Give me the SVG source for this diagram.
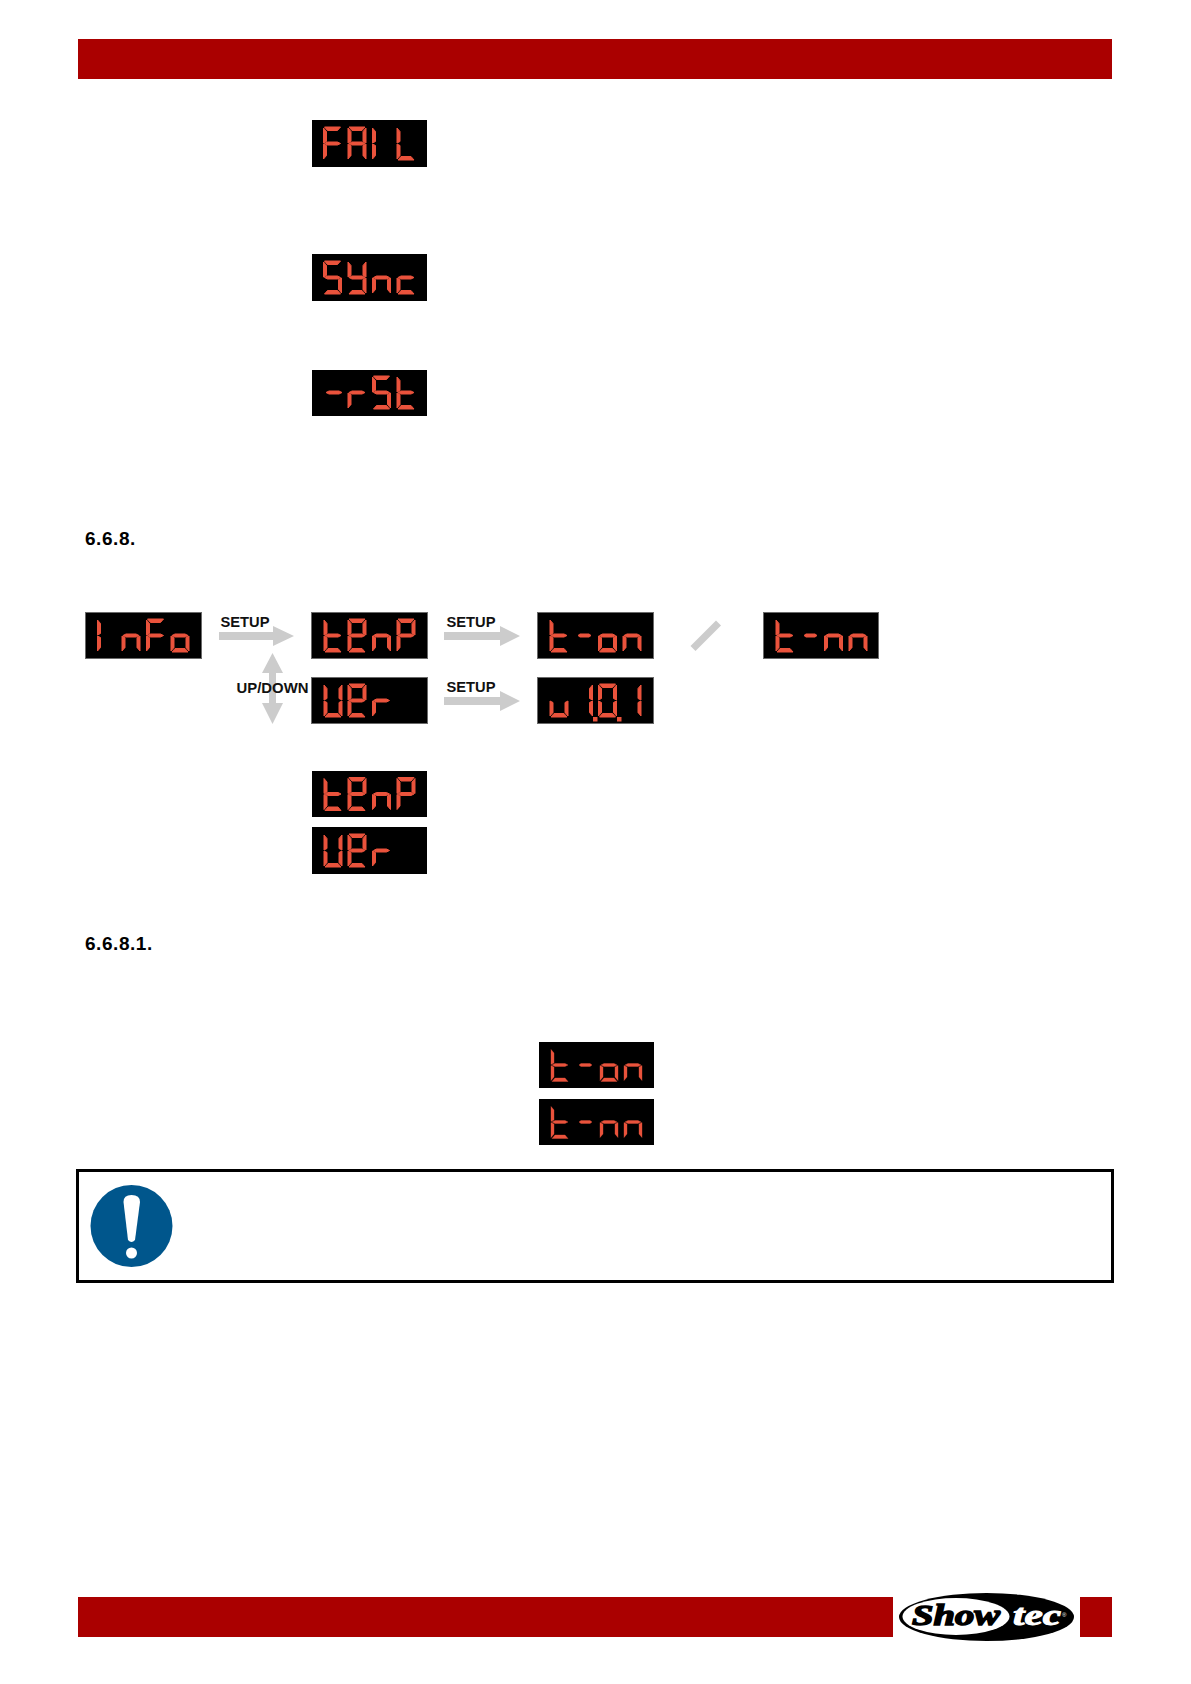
<svg xmlns="http://www.w3.org/2000/svg" width="1191" height="1684" viewBox="0 0 1191 1684">
<style>
.bar{fill:#aa0000}
.box{fill:#000}
.edge{stroke:#6a6a6a;stroke-width:1}
.disp{stroke-width:1}
.thin{stroke-width:.35}
.seg{fill:#ea533c;stroke:#ea533c}
.arrow{fill:#cccccc}
.lbl{font-family:"Liberation Sans",Arial,sans-serif;font-weight:700;font-size:14.7px;fill:#111}
.sec{font-family:"Liberation Sans",Arial,sans-serif;font-weight:700;font-size:19px;letter-spacing:.55px;fill:#000}
</style>
<defs>
<polygon id="a" points="1,0 17,0 14,3.5 4,3.5"/>
<polygon id="f" points="0,1 3,4.5 3,14.5 0,16"/>
<polygon id="b" points="18,1 18,16 15,14.5 15,4.5"/>
<polygon id="g" points="1,16.5 4,15 14,15 17,16.5 14,18 4,18"/>
<polygon id="e" points="0,17 3,18.5 3,28.5 0,32"/>
<polygon id="c" points="18,17 18,32 15,28.5 15,18.5"/>
<polygon id="d" points="1,33 4,29.5 14,29.5 17,33"/>
<polygon id="h" points="3,16.5 5,15 14,15 16,16.5 14,18 5,18"/>
<g id="dF" class="seg"><use href="#a"/><use href="#f"/><use href="#g"/><use href="#e"/></g>
<g id="dA" class="seg"><use href="#a"/><use href="#b"/><use href="#c"/><use href="#e"/><use href="#f"/><use href="#g"/></g>
<g id="dI" class="seg"><use href="#f"/><use href="#e"/></g>
<g id="d1" class="seg"><use href="#b"/><use href="#c"/></g>
<g id="dL" class="seg"><use href="#f"/><use href="#e"/><use href="#d"/></g>
<g id="dS" class="seg"><use href="#a"/><use href="#f"/><use href="#g"/><use href="#c"/><use href="#d"/></g>
<g id="dY" class="seg"><use href="#f"/><use href="#b"/><use href="#g"/><use href="#c"/><use href="#d"/></g>
<g id="dn" class="seg"><use href="#e"/><use href="#g"/><use href="#c"/></g>
<g id="dc" class="seg"><use href="#g"/><use href="#e"/><use href="#d"/></g>
<g id="dm" class="seg"><use href="#g"/></g>
<g id="dh" class="seg"><use href="#h"/></g>
<g id="dr" class="seg"><use href="#e"/><use href="#g"/></g>
<g id="dt" class="seg"><use href="#f"/><use href="#g"/><use href="#e"/><use href="#d"/></g>
<g id="do" class="seg"><use href="#g"/><use href="#e"/><use href="#c"/><use href="#d"/></g>
<g id="dE" class="seg"><use href="#a"/><use href="#b"/><use href="#f"/><use href="#g"/><use href="#e"/><use href="#d"/></g>
<g id="dP" class="seg"><use href="#a"/><use href="#b"/><use href="#f"/><use href="#g"/><use href="#e"/></g>
<g id="dU" class="seg"><use href="#f"/><use href="#b"/><use href="#e"/><use href="#c"/><use href="#d"/></g>
<g id="d0" class="seg"><use href="#a"/><use href="#b"/><use href="#f"/><use href="#e"/><use href="#c"/><use href="#d"/></g>
<g id="du" class="seg"><use href="#e"/><use href="#c"/><use href="#d"/></g>
</defs>
<rect width="1191" height="1684" fill="#fff"/>

<rect id="header" class="bar" x="78" y="39" width="1034" height="40"/>
<g id="footer">
<rect class="bar" x="78" y="1597" width="815" height="40"/>
<rect class="bar" x="1080" y="1597" width="32" height="40"/>
</g>

<g id="logo">
<ellipse cx="986.5" cy="1617" rx="87.5" ry="24" fill="#000"/>
<ellipse cx="956" cy="1616.5" rx="53.5" ry="18.5" fill="#fff"/>
<text x="912" y="1625" font-family="Liberation Serif,serif" font-weight="700" font-style="italic" font-size="30" stroke="#000" stroke-width="1.5" textLength="88" lengthAdjust="spacingAndGlyphs">Show</text>
<text x="1013" y="1625" font-family="Liberation Serif,serif" font-weight="700" font-style="italic" font-size="30" fill="#fff" stroke="#fff" stroke-width="1" textLength="48" lengthAdjust="spacingAndGlyphs">tec</text>
<text x="1062" y="1617" font-family="Liberation Sans,sans-serif" font-size="6" fill="#fff">®</text>
</g>

<g id="disp-fail" class="disp" aria-label="FAIL"><rect class="box" x="312" y="120" width="115" height="47"/>
<use href="#dF" x="323.5" y="127"/><use href="#dA" x="348" y="127"/><use href="#dI" x="372.5" y="127"/><use href="#dL" x="397" y="127"/></g>
<g id="disp-sync" class="disp" aria-label="SYnc"><rect class="box" x="312" y="254" width="115" height="47"/>
<use href="#dS" x="323.5" y="261"/><use href="#dY" x="348" y="261"/><use href="#dn" x="372.5" y="261"/><use href="#dc" x="397" y="261"/></g>
<g id="disp-rst" class="disp" aria-label="-rSt"><rect class="box" x="312" y="370" width="115" height="46"/>
<use href="#dm" x="325" y="376"/><use href="#dr" x="348" y="376"/><use href="#dS" x="372.5" y="376"/><use href="#dt" x="397" y="376"/></g>

<text id="sec-668" class="sec" x="85" y="545">6.6.8.</text>
<text id="sec-6681" class="sec" x="85" y="950">6.6.8.1.</text>

<g id="disp-info" class="disp" aria-label="InFo"><rect class="box edge" x="85.5" y="612.5" width="116" height="46"/>
<use href="#dI" x="97.5" y="619"/><use href="#dn" x="122" y="619"/><use href="#dF" x="146.5" y="619"/><use href="#do" x="171" y="619"/></g>
<g id="disp-temp1" class="disp" aria-label="tEnP"><rect class="box edge" x="311.5" y="612.5" width="116" height="46"/>
<use href="#dt" x="324" y="619"/><use href="#dE" x="348" y="619"/><use href="#dn" x="372.5" y="619"/><use href="#dP" x="397" y="619"/></g>
<g id="disp-ver1" class="disp" aria-label="UEr"><rect class="box edge" x="311.5" y="677.5" width="116" height="46"/>
<use href="#dU" x="324" y="684"/><use href="#dE" x="348" y="684"/><use href="#dr" x="372.5" y="684"/></g>
<g id="disp-ton1" class="disp" aria-label="t-on"><rect class="box edge" x="537.5" y="612.5" width="116" height="46"/>
<use href="#dt" x="550" y="619"/><use href="#dh" x="575" y="619"/><use href="#do" x="598.5" y="619"/><use href="#dn" x="623" y="619"/></g>
<g id="disp-tmm1" class="disp" aria-label="t-nn"><rect class="box edge" x="763.5" y="612.5" width="115" height="46"/>
<use href="#dt" x="776" y="619"/><use href="#dh" x="801" y="619"/><use href="#dn" x="824.5" y="619"/><use href="#dn" x="849" y="619"/></g>
<g id="disp-v101" class="disp" aria-label="v1.0.1"><rect class="box edge" x="537.5" y="677.5" width="116" height="46"/>
<use href="#du" x="550" y="684"/><use href="#d1" x="574.5" y="684"/><use href="#d0" x="598.5" y="684"/><use href="#d1" x="623" y="684"/>
<rect class="seg" x="593.5" y="717.5" width="3.5" height="3.5"/><rect class="seg" x="617.5" y="717.5" width="3.5" height="3.5"/></g>
<g id="disp-temp2" class="disp" aria-label="tEnP"><rect class="box" x="312" y="771" width="115" height="46"/>
<use href="#dt" x="324" y="777.5"/><use href="#dE" x="348" y="777.5"/><use href="#dn" x="372.5" y="777.5"/><use href="#dP" x="397" y="777.5"/></g>
<g id="disp-ver2" class="disp" aria-label="UEr"><rect class="box" x="312" y="827" width="115" height="47"/>
<use href="#dU" x="324" y="834"/><use href="#dE" x="348" y="834"/><use href="#dr" x="372.5" y="834"/></g>
<g id="disp-ton2" class="disp thin" aria-label="t-on"><rect class="box" x="539" y="1042" width="115" height="46"/>
<use href="#dt" x="551" y="1048.5"/><use href="#dh" x="576" y="1048.5"/><use href="#do" x="600" y="1048.5"/><use href="#dn" x="624" y="1048.5"/></g>
<g id="disp-tmm2" class="disp thin" aria-label="t-nn"><rect class="box" x="539" y="1099" width="115" height="46"/>
<use href="#dt" x="551" y="1105.5"/><use href="#dh" x="576" y="1105.5"/><use href="#dn" x="600" y="1105.5"/><use href="#dn" x="624" y="1105.5"/></g>

<g id="connectors">
<polygon class="arrow" points="219,632 273,632 273,626 294,636 273,646 273,640 219,640"/>
<polygon class="arrow" points="444,632 500,632 500,626 520,636 500,646 500,640 444,640"/>
<polygon class="arrow" points="444,697 500,697 500,691 520,701 500,711 500,705 444,705"/>
<polygon class="arrow" points="272.5,653 283,673 276,673 276,703 283,703 272.5,724 262,703 269,703 269,673 262,673"/>
<polygon class="arrow" points="690.5,646 716,620.5 721,625.5 695.5,651"/>
</g>
<text class="lbl" x="220.5" y="627">SETUP</text>
<text class="lbl" x="446.5" y="627">SETUP</text>
<text class="lbl" x="446.5" y="692">SETUP</text>
<text class="lbl" x="236.5" y="692.5" textLength="72" lengthAdjust="spacingAndGlyphs">UP/DOWN</text>

<g id="notice">
<rect x="77.5" y="1170.5" width="1035" height="111" fill="#fff" stroke="#000" stroke-width="3"/>
<circle cx="131.5" cy="1226" r="41" fill="#00568c"/>
<path d="M123.5 1202 Q123.5 1195 131.5 1195 Q140 1195 140 1202 L135 1240 Q131.5 1244 128 1240 Z" fill="#fff"/>
<circle cx="131.5" cy="1253" r="5.5" fill="#fff"/>
</g>
</svg>
